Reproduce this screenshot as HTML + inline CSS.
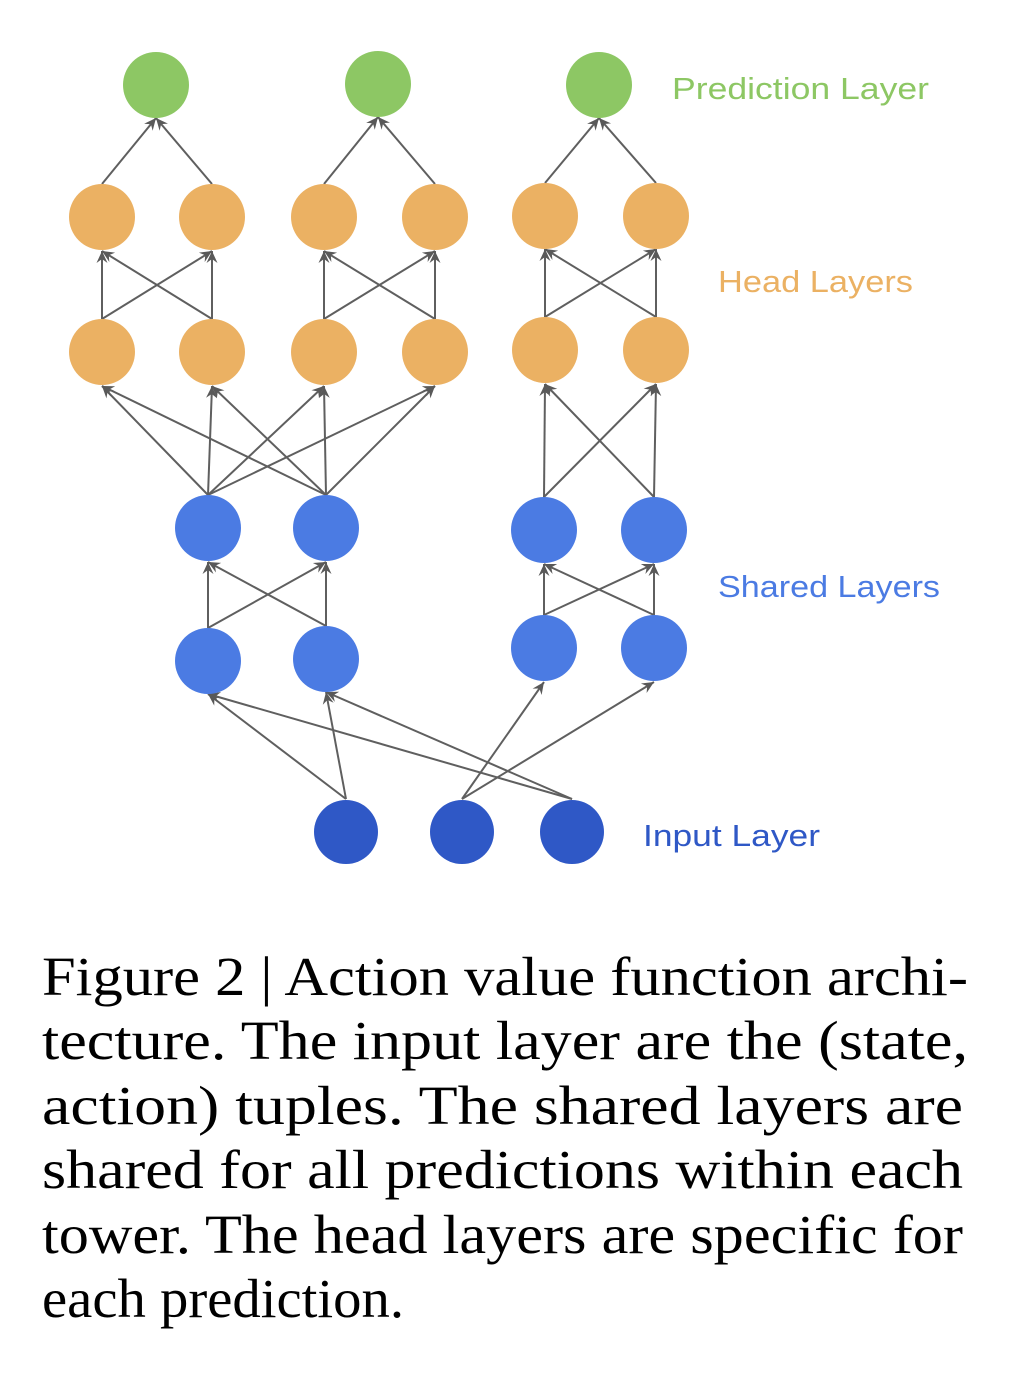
<!DOCTYPE html>
<html><head><meta charset="utf-8"><style>
html,body{margin:0;padding:0;background:#fff;}
svg{display:block;}
</style></head><body>
<svg width="1020" height="1382" viewBox="0 0 1020 1382" xmlns="http://www.w3.org/2000/svg">
<defs>
<marker id="a" viewBox="0 0 14 14" refX="13" refY="7" markerWidth="14" markerHeight="14" markerUnits="userSpaceOnUse" orient="auto">
<path d="M1,1.5 L13,7 L1,12.5 L5,7 Z" fill="#595959"/>
</marker>
</defs>
<g stroke="#5f5f5f" stroke-width="2" marker-end="url(#a)">
<line x1="102" y1="184" x2="156" y2="118"/>
<line x1="212" y1="184" x2="156" y2="118"/>
<line x1="324" y1="184" x2="378" y2="117"/>
<line x1="435" y1="184" x2="378" y2="117"/>
<line x1="545" y1="183" x2="599" y2="118"/>
<line x1="656" y1="183" x2="599" y2="118"/>
<line x1="102" y1="319" x2="102" y2="251"/>
<line x1="102" y1="319" x2="212" y2="251"/>
<line x1="212" y1="319" x2="102" y2="251"/>
<line x1="212" y1="319" x2="212" y2="251"/>
<line x1="324" y1="319" x2="324" y2="251"/>
<line x1="324" y1="319" x2="435" y2="251"/>
<line x1="435" y1="319" x2="324" y2="251"/>
<line x1="435" y1="319" x2="435" y2="251"/>
<line x1="545" y1="317" x2="545" y2="249"/>
<line x1="545" y1="317" x2="656" y2="249"/>
<line x1="656" y1="317" x2="545" y2="249"/>
<line x1="656" y1="317" x2="656" y2="249"/>
<line x1="208" y1="495" x2="102" y2="386"/>
<line x1="208" y1="495" x2="212" y2="386"/>
<line x1="208" y1="495" x2="324" y2="386"/>
<line x1="208" y1="495" x2="435" y2="386"/>
<line x1="326" y1="495" x2="102" y2="386"/>
<line x1="326" y1="495" x2="212" y2="386"/>
<line x1="326" y1="495" x2="324" y2="386"/>
<line x1="326" y1="495" x2="435" y2="386"/>
<line x1="544" y1="497" x2="545" y2="384"/>
<line x1="544" y1="497" x2="656" y2="384"/>
<line x1="654" y1="497" x2="545" y2="384"/>
<line x1="654" y1="497" x2="656" y2="384"/>
<line x1="208" y1="628" x2="208" y2="562"/>
<line x1="208" y1="628" x2="326" y2="562"/>
<line x1="326" y1="626" x2="208" y2="562"/>
<line x1="326" y1="626" x2="326" y2="562"/>
<line x1="544" y1="615" x2="544" y2="564"/>
<line x1="544" y1="615" x2="654" y2="564"/>
<line x1="654" y1="615" x2="544" y2="564"/>
<line x1="654" y1="615" x2="654" y2="564"/>
<line x1="346" y1="799" x2="208" y2="694"/>
<line x1="346" y1="799" x2="326" y2="692"/>
<line x1="462" y1="799" x2="544" y2="682"/>
<line x1="462" y1="799" x2="654" y2="682"/>
<line x1="572" y1="799" x2="208" y2="694"/>
<line x1="572" y1="799" x2="326" y2="692"/>
</g>
<g fill="#8dc764">
<circle cx="156" cy="85" r="33"/><circle cx="378" cy="84" r="33"/><circle cx="599" cy="85" r="33"/>
</g>
<g fill="#ebb163">
<circle cx="102" cy="217" r="33"/><circle cx="212" cy="217" r="33"/><circle cx="324" cy="217" r="33"/><circle cx="435" cy="217" r="33"/><circle cx="545" cy="216" r="33"/><circle cx="656" cy="216" r="33"/>
<circle cx="102" cy="352" r="33"/><circle cx="212" cy="352" r="33"/><circle cx="324" cy="352" r="33"/><circle cx="435" cy="352" r="33"/><circle cx="545" cy="350" r="33"/><circle cx="656" cy="350" r="33"/>
</g>
<g fill="#4b7be3">
<circle cx="208" cy="528" r="33"/><circle cx="326" cy="528" r="33"/><circle cx="544" cy="530" r="33"/><circle cx="654" cy="530" r="33"/>
<circle cx="208" cy="661" r="33"/><circle cx="326" cy="659" r="33"/><circle cx="544" cy="648" r="33"/><circle cx="654" cy="648" r="33"/>
</g>
<g fill="#2f58c6">
<circle cx="346" cy="832" r="32"/><circle cx="462" cy="832" r="32"/><circle cx="572" cy="832" r="32"/>
</g>
<g font-family="Liberation Sans, sans-serif" font-size="31">
<text x="672" y="99" fill="#8dc764" textLength="257" lengthAdjust="spacingAndGlyphs">Prediction Layer</text>
<text x="718" y="292" fill="#ebb163" textLength="195" lengthAdjust="spacingAndGlyphs">Head Layers</text>
<text x="718" y="597" fill="#4b7be3" textLength="222" lengthAdjust="spacingAndGlyphs">Shared Layers</text>
<text x="643" y="846" fill="#2f58c6" textLength="177" lengthAdjust="spacingAndGlyphs">Input Layer</text>
</g>
<g font-family="Liberation Serif, serif" font-size="55" fill="#000">
<text x="42" y="995" textLength="926" lengthAdjust="spacingAndGlyphs">Figure 2 | Action value function archi-</text>
<text x="42" y="1059" textLength="926" lengthAdjust="spacingAndGlyphs">tecture.  The input layer are the (state,</text>
<text x="42" y="1124" textLength="921" lengthAdjust="spacingAndGlyphs">action) tuples.  The shared layers are</text>
<text x="42" y="1188" textLength="921" lengthAdjust="spacingAndGlyphs">shared for all predictions within each</text>
<text x="42" y="1253" textLength="921" lengthAdjust="spacingAndGlyphs">tower.  The head layers are specific for</text>
<text x="42" y="1317" textLength="362" lengthAdjust="spacingAndGlyphs">each prediction.</text>
</g>
</svg>
</body></html>
